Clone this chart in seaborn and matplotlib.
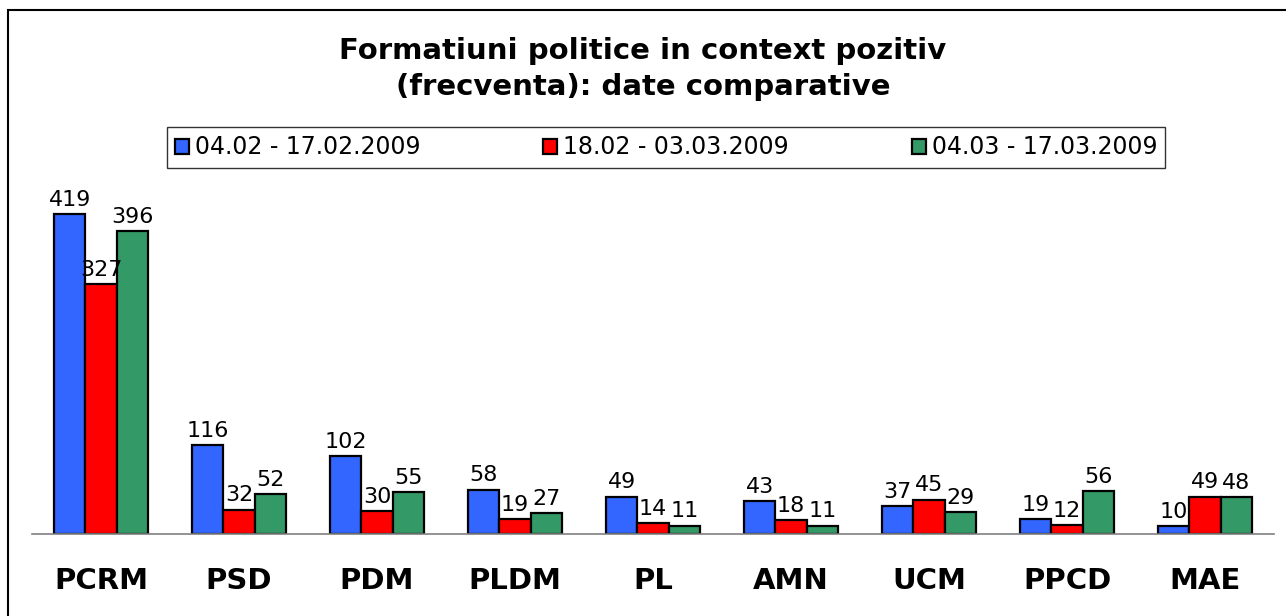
import pandas as pd
import matplotlib
matplotlib.use("Agg")
import matplotlib.pyplot as plt
import seaborn as sns
from matplotlib.patches import Rectangle

# chart data
parties = ["PCRM", "PSD", "PDM", "PLDM", "PL", "AMN", "UCM", "PPCD", "MAE"]
periods = ["04.02 - 17.02.2009", "18.02 - 03.03.2009", "04.03 - 17.03.2009"]
period1 = [419, 116, 102, 58, 49, 43, 37, 19, 10]
period2 = [327, 32, 30, 19, 14, 18, 45, 12, 49]
period3 = [396, 52, 55, 27, 11, 11, 29, 56, 48]
colors = ["#3366FF", "#FF0000", "#339966"]

rows = []
for name, vals in zip(periods, [period1, period2, period3]):
    for p, v in zip(parties, vals):
        rows.append({"Partid": p, "Perioada": name, "Frecventa": v})
df = pd.DataFrame(rows)

sns.set_style("white")
plt.rcParams["font.family"] = ["DejaVu Sans"]
plt.rcParams["text.color"] = "black"
plt.rcParams["xtick.labelcolor"] = "black"

fig = plt.figure(figsize=(12.86, 6.16), dpi=100)
ax = fig.add_axes([32 / 1286, 1 - 534 / 616, (1274 - 32) / 1286, (534 - 190) / 616])

sns.barplot(data=df, x="Partid", y="Frecventa", hue="Perioada", order=parties,
            hue_order=periods, palette=colors, width=0.68, edgecolor="black",
            linewidth=1.6, saturation=1, ax=ax, legend=True)

for cont in ax.containers:
    ax.bar_label(cont, fontsize=16, padding=3, color="black")

ax.set_xlim(-0.5, len(parties) - 0.5)
ax.set_ylim(0, 450)
ax.set_xlabel("")
ax.set_ylabel("")
ax.set_yticks([])
for s in ["top", "right", "left"]:
    ax.spines[s].set_visible(False)
ax.spines["bottom"].set_color("#808080")
ax.spines["bottom"].set_linewidth(1.2)

ax.set_xticks(range(len(parties)))
ax.set_xticklabels(parties, fontsize=21, fontweight="bold", color="black")
ax.tick_params(axis="x", which="major", length=0, pad=24)
ax.set_xticks([i - 0.5 for i in range(len(parties) + 1)], minor=True)
ax.tick_params(axis="x", which="minor", length=10, width=1.2, color="#808080",
               direction="out")

handles, labels = ax.get_legend_handles_labels()
ax.get_legend().remove()
leg = fig.legend(handles, labels, loc="center", ncol=3,
                 bbox_to_anchor=(666 / 1286, 1 - 147.5 / 616),
                 fontsize=17, frameon=True, fancybox=False, edgecolor="black",
                 handlelength=0.6, handleheight=0.6, handletextpad=0.25,
                 columnspacing=5.2, borderpad=0.35)
leg.get_frame().set_linewidth(1.0)

fig.text(0.5, 1 - 69 / 616, "Formatiuni politice in context pozitiv\n(frecventa): date comparative",
         ha="center", va="center", fontsize=21, fontweight="bold", linespacing=1.4,
         color="black")

fig.patches.append(Rectangle((8 / 1286, -0.05), 1.1, 1 - 10 / 616 + 0.05,
                             transform=fig.transFigure, fill=False,
                             edgecolor="black", linewidth=1.5))

fig.savefig("out.png", dpi=100)
